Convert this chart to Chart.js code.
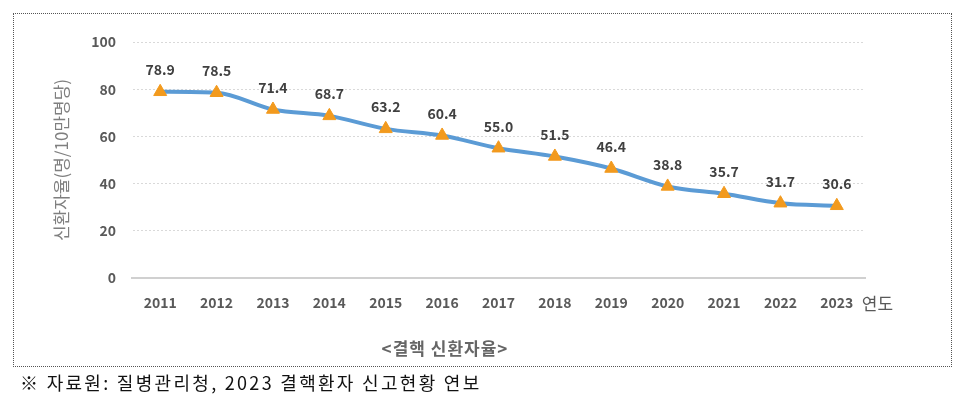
<!DOCTYPE html>
<html>
<head>
<meta charset="utf-8">
<script src="https://cdn.jsdelivr.net/npm/chart.js@4"></script>
<style>
  body { margin: 0; background: #fff; }
  #wrap { position: relative; width: 960px; height: 404px; }
  #box { position: absolute; left: 13px; top: 13px; width: 939px; height: 354px; border: 1px dotted #555; box-sizing: border-box; }
  #note { position: absolute; left: 20px; top: 369px; font-family: "Noto Sans CJK KR", sans-serif; font-size: 18px; letter-spacing: 2.3px; color: #111; }
  canvas { position: absolute; left: 0; top: 0; }
</style>
</head>
<body>
<div id="wrap">
  <div id="box"></div>
  <canvas id="chart" width="960" height="404"></canvas>
  <div id="note">※ 자료원: 질병관리청, 2023 결핵환자 신고현황 연보</div>
</div>
<script>
const years = ['2011', '2012', '2013', '2014', '2015', '2016', '2017', '2018', '2019', '2020', '2021', '2022', '2023'];
const rates = [78.9, 78.5, 71.4, 68.7, 63.2, 60.4, 55.0, 51.5, 46.4, 38.8, 35.7, 31.7, 30.6];
const yTicks = [0, 20, 40, 60, 80, 100];

const FONT = '"Noto Sans CJK KR", sans-serif';

// value labels above points + extra texts
const labelPlugin = {
  id: 'labels',
  afterDatasetsDraw(chart) {
    const ctx = chart.ctx;
    const meta = chart.getDatasetMeta(0);
    ctx.save();
    ctx.font = 'bold 14px ' + FONT;
    ctx.fillStyle = '#404040';
    ctx.textAlign = 'center';
    ctx.textBaseline = 'middle';
    meta.data.forEach(function (pt, i) {
      ctx.fillText(rates[i].toFixed(1), pt.x, pt.y - 22);
    });

    // "연도" next to last year label
    const x = chart.scales.x;
    ctx.font = '17px ' + FONT;
    ctx.fillStyle = '#595959';
    ctx.textAlign = 'left';
    ctx.fillText('연도', x.getPixelForValue(years.length - 1) + 25, 304);

    // caption
    ctx.font = 'bold 17px ' + FONT;
    ctx.fillStyle = '#666666';
    ctx.textAlign = 'center';
    if ('letterSpacing' in ctx) ctx.letterSpacing = '1px';
    ctx.fillText('<결핵 신환자율>', 445, 349);
    ctx.restore();
  }
};

new Chart(document.getElementById('chart'), {
  type: 'line',
  data: {
    labels: years,
    datasets: [{
      data: rates,
      borderColor: '#5B9BD5',
      borderWidth: 4,
      cubicInterpolationMode: 'monotone',
      pointStyle: 'triangle',
      pointRadius: 7.5,
      pointBackgroundColor: '#F29A1E',
      pointBorderColor: '#F29A1E',
      pointBorderWidth: 1
    }]
  },
  options: {
    responsive: false,
    animation: false,
    layout: { padding: { left: 51, right: 95, top: 42, bottom: 0 } },
    plugins: { legend: { display: false }, tooltip: { enabled: false } },
    scales: {
      x: {
        offset: true,
        grid: { display: false, drawTicks: false },
        border: { display: true, color: '#D0D0D0', width: 2 },
        ticks: { padding: 16, color: '#595959', font: { family: FONT, size: 14, weight: 'bold' } },
        afterFit(scale) { scale.height = 126; }
      },
      y: {
        min: 0,
        max: 100,
        afterBuildTicks(scale) { scale.ticks = yTicks.map(v => ({ value: v })); },
        grid: { color: '#D9D9D9', drawTicks: false, tickLength: 0 },
        border: { display: true, color: 'rgba(0,0,0,0)', dash: [2, 2] },
        ticks: { padding: 16, color: '#595959', font: { family: FONT, size: 14, weight: 'bold' } },
        title: {
          display: true,
          text: '신환자율(명/10만명당)',
          color: '#7F7F7F',
          padding: 0,
          font: { family: FONT, size: 17 }
        },
        afterFit(scale) { scale.width = 81; }
      }
    }
  },
  plugins: [labelPlugin]
});
</script>
</body>
</html>
